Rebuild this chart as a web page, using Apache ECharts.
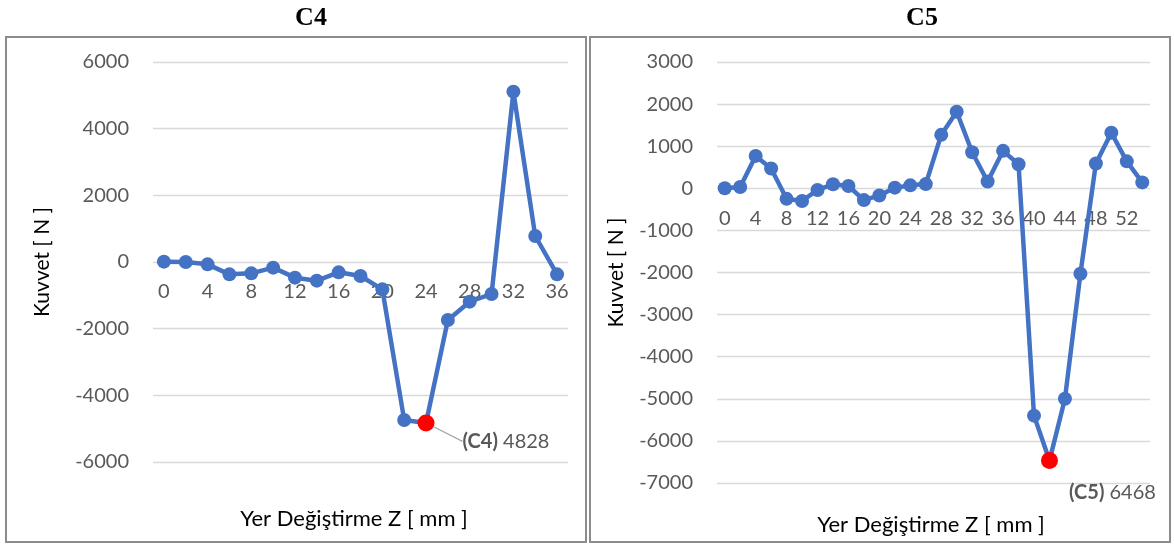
<!DOCTYPE html>
<html>
<head>
<meta charset="utf-8">
<title>C4 / C5 Kuvvet – Yer Değiştirme</title>
<script src="https://cdn.jsdelivr.net/npm/echarts@6/dist/echarts.min.js"></script>
<style>
  html, body { margin: 0; padding: 0; background: #fff; }
  #chart { width: 1174px; height: 544px; }
</style>
</head>
<body>
<div id="chart"></div>
<script>
// C4 specimen: displacement Z [mm] and measured force [N]
const c4Z = ['0','2','4','6','8','10','12','14','16','18','20','22','24','26','28','30','32','34','36'];
const c4F = [10, 0, -70, -370, -340, -170, -470, -560, -310, -420, -820, -4740, -4828, -1740, -1190, -960, 5110, 780, -370];
const c4PeakIndex = 12;

// C5 specimen: displacement Z [mm] and measured force [N]
const c5Z = ['0','2','4','6','8','10','12','14','16','18','20','22','24','26','28','30','32','34','36','38','40','42','44','46','48','50','52','54'];
const c5F = [0, 30, 770, 470, -250, -300, -40, 95, 55, -280, -170, 15, 70, 100, 1270, 1820, 855, 160, 890, 570, -5400, -6468, -5000, -2030, 590, 1320, 640, 140];
const c5PeakIndex = 21;

// force axis ranges [min, max, step]
const c4Range = [-6000, 6000, 2000];
const c5Range = [-7000, 3000, 1000];

const titles = ['C4', 'C5'];
const xName = 'Yer Değiştirme Z [ mm ]';
const yName = 'Kuvvet [ N ]';

const BLUE = '#4472C4';
const TICK = '#595959';
const GRID = '#d9d9d9';
const FONT = 'Lato, "Open Sans", sans-serif';

const grids = [
  { left: 153, right: 606, top: 62, bottom: 82 },
  { left: 717, right: 24, top: 62, bottom: 61 }
];
const CHART_H = 544;

function peakData(values, peakIndex, name, labelPos, withLine) {
  return values.map((v, i) => {
    if (i !== peakIndex) return v;
    return {
      value: v,
      symbolSize: 17,
      itemStyle: { color: '#FF0000' },
      label: {
        show: true,
        position: labelPos,
        align: 'left',
        verticalAlign: 'middle',
        fontFamily: FONT,
        fontSize: 20,
        color: TICK,
        formatter: (p) => '{b|(' + name + ')} ' + Math.abs(p.value),
        rich: { b: { fontWeight: 'bold', fontFamily: FONT, fontSize: 20, color: TICK } }
      },
      labelLine: withLine ? { show: true, lineStyle: { color: '#a6a6a6', width: 1.3 } } : { show: false }
    };
  });
}

// The category labels sit just under the zero force line; the shift up from
// the grid bottom follows from the force range and the grid height.
function zeroShift(range, grid) {
  const h = CHART_H - grid.top - grid.bottom;
  return -h * (0 - range[0]) / (range[1] - range[0]);
}

function xAxisOf(cats, gridIndex, range) {
  return {
    type: 'category',
    gridIndex,
    data: cats,
    boundaryGap: true,
    position: 'bottom',
    offset: zeroShift(range, grids[gridIndex]),
    axisLine: { show: false, onZero: false },
    axisTick: { show: false },
    splitLine: { show: false },
    axisLabel: { interval: 1, color: TICK, fontSize: 20, fontFamily: FONT, margin: 20 }
  };
}

function yAxisOf(range, gridIndex, gap) {
  return {
    type: 'value',
    gridIndex,
    min: range[0], max: range[1], interval: range[2],
    name: yName,
    nameLocation: 'middle',
    nameGap: gap,
    nameTextStyle: { color: '#000', fontSize: 21, fontFamily: FONT },
    axisLine: { show: false },
    axisTick: { show: false },
    axisLabel: { color: TICK, fontSize: 20, fontFamily: FONT, margin: 24, formatter: (v) => String(v) },
    splitLine: { lineStyle: { color: GRID, width: 1.3 } }
  };
}

function lineSeries(name, idx, data) {
  return {
    type: 'line', name, xAxisIndex: idx, yAxisIndex: idx,
    data,
    symbol: 'circle', symbolSize: 14,
    showAllSymbol: true,
    lineStyle: { color: BLUE, width: 4.5 },
    itemStyle: { color: BLUE }
  };
}

const chart = echarts.init(document.getElementById('chart'), null, { renderer: 'canvas' });

chart.setOption({
  animation: false,
  backgroundColor: '#fff',
  title: [
    { text: titles[0], left: 306, top: 0, textAlign: 'center',
      textStyle: { fontFamily: '"Liberation Serif", "Times New Roman", serif', fontWeight: 'bold', fontSize: 26, color: '#000' } },
    { text: titles[1], left: 917, top: 0, textAlign: 'center',
      textStyle: { fontFamily: '"Liberation Serif", "Times New Roman", serif', fontWeight: 'bold', fontSize: 26, color: '#000' } },
    { text: xName, left: 349, top: 503, textAlign: 'center',
      textStyle: { fontFamily: FONT, fontWeight: 'normal', fontSize: 22, color: '#000' } },
    { text: xName, left: 926, top: 509, textAlign: 'center',
      textStyle: { fontFamily: FONT, fontWeight: 'normal', fontSize: 22, color: '#000' } }
  ],
  graphic: [
    { type: 'rect', shape: { x: 6, y: 37, width: 580, height: 505 },
      style: { fill: 'none', stroke: '#8c8c8c', lineWidth: 2 }, silent: true },
    { type: 'rect', shape: { x: 590, y: 37, width: 580, height: 505 },
      style: { fill: 'none', stroke: '#8c8c8c', lineWidth: 2 }, silent: true }
  ],
  grid: grids,
  xAxis: [xAxisOf(c4Z, 0, c4Range), xAxisOf(c5Z, 1, c5Range)],
  yAxis: [yAxisOf(c4Range, 0, 100), yAxisOf(c5Range, 1, 90)],
  series: [
    lineSeries('C4', 0, peakData(c4F, c4PeakIndex, 'C4', [45, 27], true)),
    lineSeries('C5', 1, peakData(c5F, c5PeakIndex, 'C5', [28, 40], false))
  ]
});
</script>
</body>
</html>
